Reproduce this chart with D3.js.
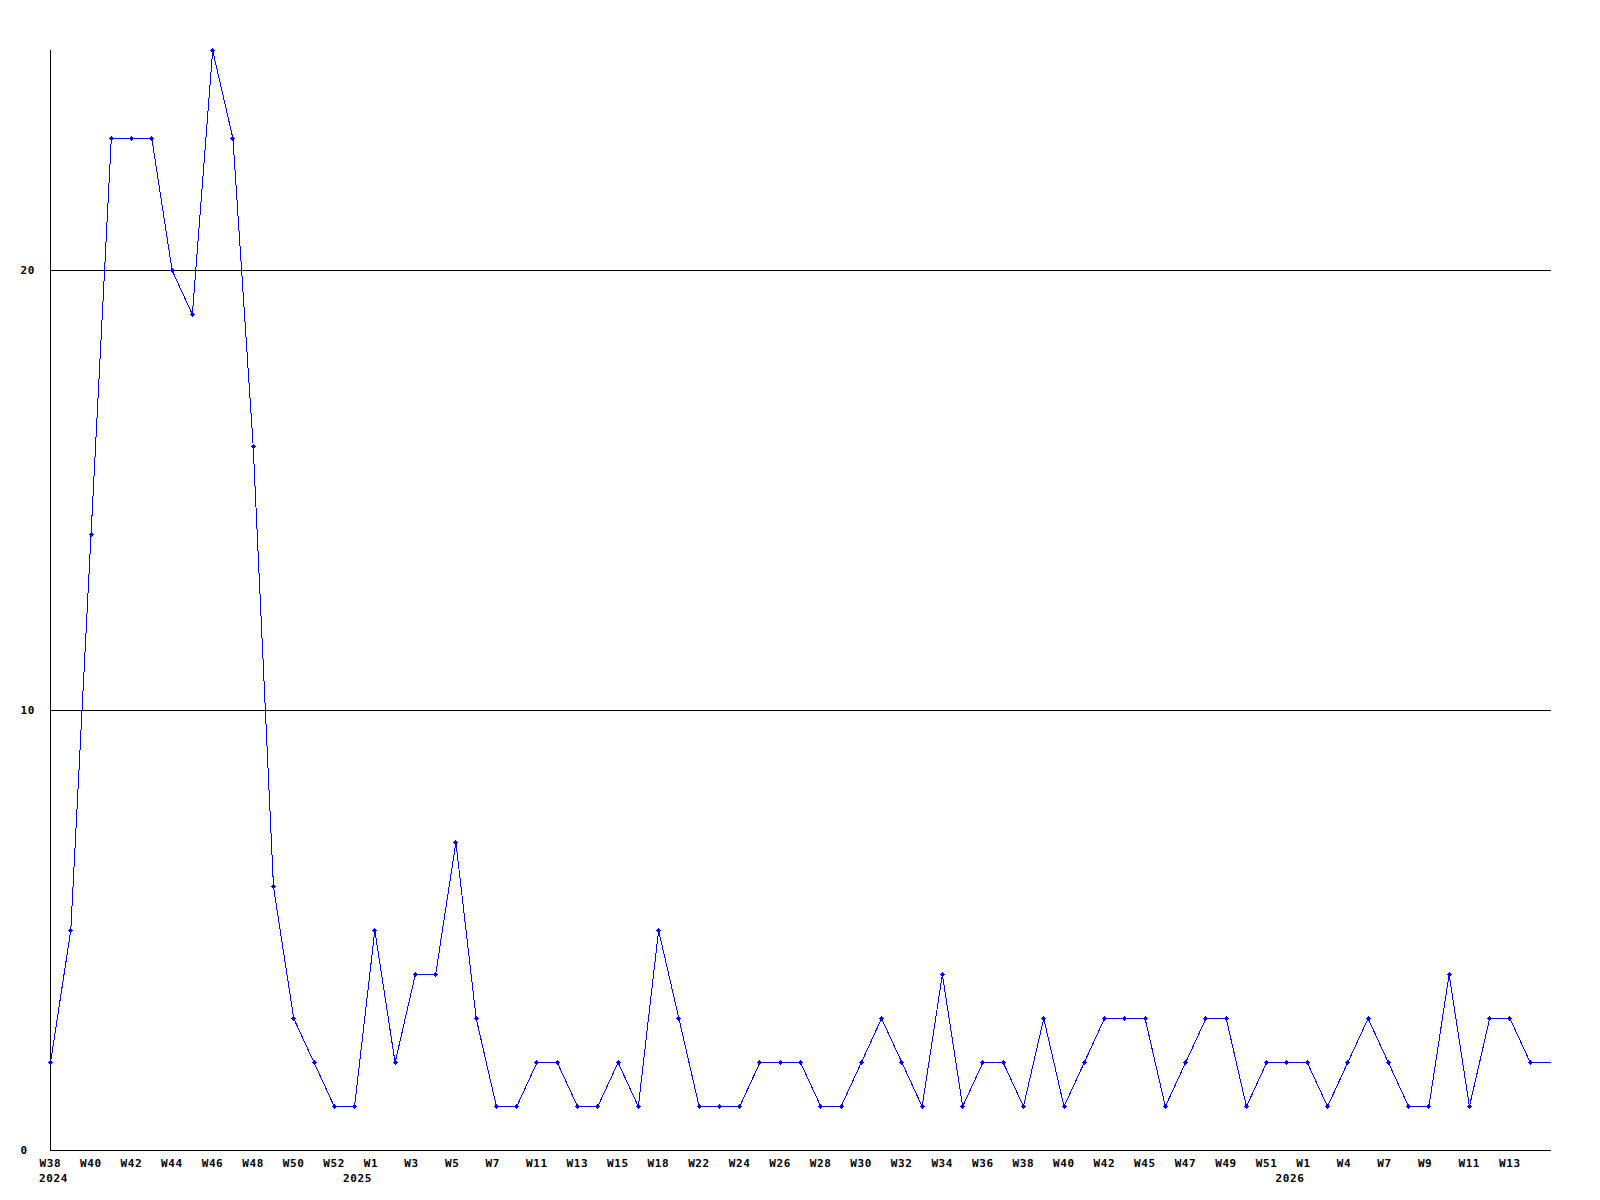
<!DOCTYPE html>
<html>
<head>
<meta charset="utf-8">
<title>Weekly count</title>
<script src="https://cdn.jsdelivr.net/npm/d3@7"></script>
<style>
  body { margin: 0; background: #fff; }
  svg { display: block; }
  .lbl { font-family: "DejaVu Sans Mono", monospace; font-weight: bold; font-size: 11px; letter-spacing: 0.6px; fill: #000; }
</style>
</head>
<body>
<script>
// weeks shown on the x axis (weeks with nothing are absent from the data)
var weeks = ["W38","W39","W40","W41","W42","W43","W44","W45","W46","W47","W48","W49","W50","W51","W52",
  "W0","W1","W2","W3","W4","W5","W6","W7","W9","W11","W12","W13","W14","W15","W16","W18","W20","W22","W23",
  "W24","W25","W26","W27","W28","W29","W30","W31","W32","W33","W34","W35","W36","W37","W38","W39","W40",
  "W41","W42","W44","W45","W46","W47","W48","W49","W50","W51",
  "W0","W1","W3","W4","W5","W7","W8","W9","W10","W11","W12","W13","W14","W15"];
var years = [2024,2024,2024,2024,2024,2024,2024,2024,2024,2024,2024,2024,2024,2024,2024,
  2025,2025,2025,2025,2025,2025,2025,2025,2025,2025,2025,2025,2025,2025,2025,2025,2025,2025,2025,
  2025,2025,2025,2025,2025,2025,2025,2025,2025,2025,2025,2025,2025,2025,2025,2025,2025,
  2025,2025,2025,2025,2025,2025,2025,2025,2025,2025,
  2026,2026,2026,2026,2026,2026,2026,2026,2026,2026,2026,2026,2026,2026];
var counts = [2,5,14,23,23,23,20,19,25,23,16,6,3,2,1,
  1,5,2,4,4,7,3,1,1,2,2,1,1,2,1,5,3,1,1,
  1,2,2,2,1,1,2,3,2,1,4,1,2,2,1,3,1,
  2,3,3,3,1,2,3,3,1,2,
  2,2,1,2,3,2,1,1,4,1,3,3,2,2];
var yTicks = [0, 10, 20];

var totalWidth = 1600, totalHeight = 1200;
var plotLeft = 50, plotRight = 1550, plotTop = 50, plotBottom = 1150;

var svg = d3.select("body").append("svg")
    .attr("width", totalWidth)
    .attr("height", totalHeight);

var x = d3.scaleLinear().domain([0, counts.length - 1]).range([plotLeft, plotRight]);
var y = d3.scaleLinear().domain([0, 25]).range([plotBottom, plotTop]);

// horizontal grid lines + y labels
var yAxis = d3.axisLeft(y).tickValues(yTicks).tickSize(-(plotRight - plotLeft)).tickFormat(d3.format("d"));
var gy = svg.append("g")
    .attr("transform", "translate(" + (plotLeft + 0.5) + ",0)")
    .call(yAxis);
gy.select(".domain").remove();
gy.selectAll("line").attr("stroke", "#000").attr("shape-rendering", "crispEdges");
gy.selectAll("text")
    .attr("class", "lbl")
    .attr("x", 20 - plotLeft)
    .attr("dy", "0.36em")
    .attr("text-anchor", "start")
    .attr("font-family", null).attr("font-size", null);

// axis lines
svg.append("line")
    .attr("x1", plotLeft + 0.5).attr("x2", plotLeft + 0.5)
    .attr("y1", plotTop).attr("y2", plotBottom + 0.5)
    .attr("stroke", "#000").attr("shape-rendering", "crispEdges");
svg.append("line")
    .attr("x1", plotLeft).attr("x2", plotRight + 1)
    .attr("y1", plotBottom + 0.5).attr("y2", plotBottom + 0.5)
    .attr("stroke", "#000").attr("shape-rendering", "crispEdges");

// x labels: every second week
var xAxis = d3.axisBottom(x)
    .tickValues(d3.range(0, counts.length - 1, 2))
    .tickSize(0)
    .tickFormat(function(i) { return weeks[i]; });
var gx = svg.append("g")
    .attr("transform", "translate(0," + plotBottom + ")")
    .call(xAxis);
gx.select(".domain").remove();
gx.selectAll("text")
    .attr("class", "lbl")
    .attr("text-anchor", "start")
    .attr("dx", -11)
    .attr("y", 17)
    .attr("dy", 0)
    .attr("font-family", null).attr("font-size", null);

// year labels at the first point of each year
var yearStarts = counts.map(function(d, i) { return i; })
    .filter(function(i) { return i === 0 || years[i] !== years[i - 1]; });
svg.selectAll(".year")
    .data(yearStarts)
    .enter()
    .append("text")
    .attr("class", "lbl year")
    .attr("x", function(i) { return x(i) - 11; })
    .attr("y", plotBottom + 32)
    .text(function(i) { return years[i]; });

// the line
var line = d3.line()
    .x(function(d, i) { return x(i) + 0.5; })
    .y(function(d) { return y(d) + 0.5; });
svg.append("path")
    .datum(counts)
    .attr("d", line)
    .attr("fill", "none")
    .attr("stroke", "#0000ff")
    .attr("stroke-width", 1)
    .attr("shape-rendering", "crispEdges");

// small plus markers (not on the last, running week)
var marker = "M-0.5,-2.5h1v1h1v1h1v1h-1v1h-1v1h-1v-1h-1v-1h-1v-1h1v-1h1z";
svg.selectAll(".pt")
    .data(counts.slice(0, counts.length - 1))
    .enter()
    .append("path")
    .attr("class", "pt")
    .attr("d", marker)
    .attr("transform", function(d, i) { return "translate(" + (Math.round(x(i)) + 0.5) + "," + (Math.round(y(d)) + 0.5) + ")"; })
    .attr("fill", "#0000ff")
    .attr("shape-rendering", "crispEdges");
</script>
</body>
</html>
